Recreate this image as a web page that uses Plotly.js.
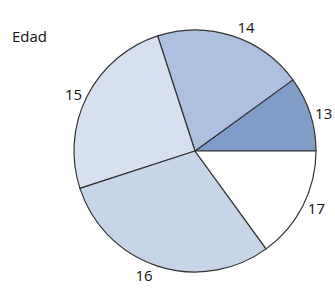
<!DOCTYPE html>
<html>
<head>
<meta charset="utf-8">
<script src="https://cdn.plot.ly/plotly-3.0.1.min.js"></script>
<style>html,body{margin:0;padding:0;background:#fff;}#chart{width:335px;height:291px;}</style>
</head>
<body>
<div id="chart"></div>
<script>
const categories = ["13", "14", "15", "16", "17"];
const values = [10, 20, 25, 30, 15];
const sliceColors = ["#809dc8", "#aec0df", "#d6e0ee", "#c7d5e8", "#ffffff"];
const chartTitle = "Edad";

const total = values.reduce((a, b) => a + b, 0);
// first slice starts at 3 o'clock and slices run counterclockwise
const startRotation = 90 - 360 * values[0] / total;

const data = [{
  type: "pie",
  labels: categories,
  values: values,
  sort: false,
  direction: "counterclockwise",
  rotation: startRotation,
  textinfo: "label",
  textposition: "outside",
  outsidetextfont: {family: "Open Sans, sans-serif", size: 15, color: "#111"},
  marker: {colors: sliceColors, line: {color: "#333333", width: 1.2}},
  showlegend: false,
  hoverinfo: "none",
  domain: {x: [0.2209, 0.9433], y: [0.0653, 0.8969]}
}];

const layout = {
  width: 335, height: 291,
  margin: {l: 0, r: 0, t: 0, b: 0},
  paper_bgcolor: "#ffffff",
  annotations: [{
    text: chartTitle, xref: "paper", yref: "paper",
    x: 10 / 335, y: 1 - 36 / 291, xanchor: "left", yanchor: "middle",
    showarrow: false, font: {family: "Open Sans, sans-serif", size: 15, color: "#111"}
  }]
};

Plotly.newPlot("chart", data, layout, {staticPlot: true, displayModeBar: false});
</script>
</body>
</html>
